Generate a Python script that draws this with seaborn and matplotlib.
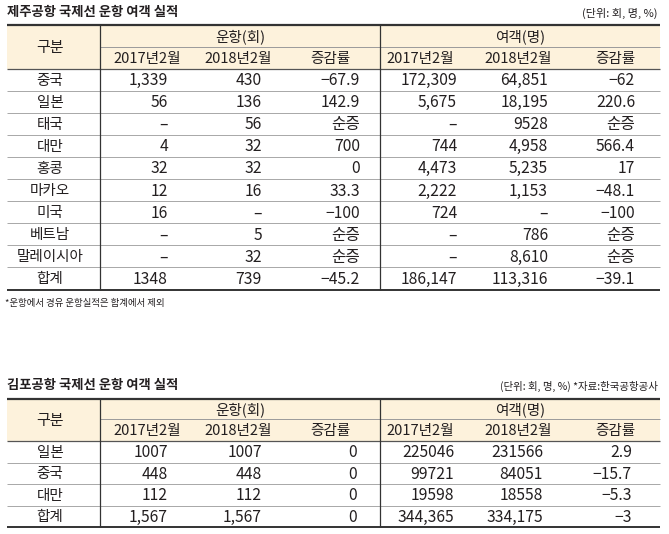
import matplotlib.pyplot as plt
import seaborn as sns
from matplotlib.patches import Rectangle

# 제주공항 data
jeju_rows = ['중국', '일본', '태국', '대만', '홍콩', '마카오', '미국', '베트남', '말레이시아', '합계']
jeju_flights_2017 = ['1,339', '56', '–', '4', '32', '12', '16', '–', '–', '1348']
jeju_flights_2018 = ['430', '136', '56', '32', '32', '16', '–', '5', '32', '739']
jeju_flights_rate = ['−67.9', '142.9', '순증', '700', '0', '33.3', '−100', '순증', '순증', '−45.2']
jeju_pax_2017 = ['172,309', '5,675', '–', '744', '4,473', '2,222', '724', '–', '–', '186,147']
jeju_pax_2018 = ['64,851', '18,195', '9528', '4,958', '5,235', '1,153', '–', '786', '8,610', '113,316']
jeju_pax_rate = ['−62', '220.6', '순증', '566.4', '17', '−48.1', '−100', '순증', '순증', '−39.1']

# 김포공항 data
gimpo_rows = ['일본', '중국', '대만', '합계']
gimpo_flights_2017 = ['1007', '448', '112', '1,567']
gimpo_flights_2018 = ['1007', '448', '112', '1,567']
gimpo_flights_rate = ['0', '0', '0', '0']
gimpo_pax_2017 = ['225046', '99721', '19598', '344,365']
gimpo_pax_2018 = ['231566', '84051', '18558', '334,175']
gimpo_pax_rate = ['2.9', '−15.7', '−5.3', '−3']

sub_headers = ['2017년2월', '2018년2월', '증감률', '2017년2월', '2018년2월', '증감률']
group_headers = ['운항(회)', '여객(명)']

sns.set_style('white')
plt.rcParams['font.family'] = ['Noto Sans CJK KR', 'DejaVu Sans']

TXT = '#231f20'
HEAD_BG = '#fdf2dc'
LINE = '#9a9a9a'
L, R, V1, V2 = 7, 660, 100, 380
head_x = [147, 238, 330, 420, 518, 615]
group_x = [240, 520]


def draw_table(ax, top, mid, hbot, row_h, rows, cols, right_x):
    bottom = hbot + row_h * len(rows)
    ax.add_patch(Rectangle((L, top), R - L, hbot - top, color=HEAD_BG, lw=0, zorder=0))
    ax.hlines(top, L, R, color='#333333', lw=1.6)
    ax.hlines(mid, V1, R, color=LINE, lw=0.7)
    ax.hlines(hbot, L, R, color='#555555', lw=0.9)
    ax.hlines(bottom, L, R, color='#333333', lw=1.4)
    for i in range(1, len(rows)):
        ax.hlines(hbot + row_h * i, L, R, color=LINE, lw=0.6)
    ax.vlines([V1, V2], top, bottom, color='#333333', lw=0.9)

    ax.text(50, (top + hbot) / 2 + 1, '구분', ha='center', va='center', fontsize=10.8, color=TXT)
    for gx, g in zip(group_x, group_headers):
        ax.text(gx, (top + mid) / 2 + 1, g, ha='center', va='center', fontsize=10.5, color=TXT)
    for hx, h in zip(head_x, sub_headers):
        ax.text(hx, (mid + hbot) / 2 + 1, h, ha='center', va='center', fontsize=10.5, color=TXT)

    for i, name in enumerate(rows):
        y = hbot + row_h * (i + 0.5) + 1
        ax.text(50, y, name, ha='center', va='center', fontsize=10.5, color=TXT)
        for rx, col in zip(right_x, cols):
            ax.text(rx, y, col[i], ha='right', va='center', fontsize=11.3, color=TXT)


fig = plt.figure(figsize=(6.69, 5.34), dpi=100)
ax = fig.add_axes([0, 0, 1, 1])
ax.set_xlim(0, 669)
ax.set_ylim(534, 0)
ax.axis('off')

# top table
ax.text(7, 12, '제주공항 국제선 운항 여객 실적', ha='left', va='center',
        fontsize=9.6, fontweight='bold', color=TXT)
ax.text(658, 13, '(단위: 회, 명, %)', ha='right', va='center', fontsize=8, color=TXT)
draw_table(ax, 25, 47, 68.5, 22.1, jeju_rows,
           [jeju_flights_2017, jeju_flights_2018, jeju_flights_rate,
            jeju_pax_2017, jeju_pax_2018, jeju_pax_rate],
           [168, 262, 360, 457, 548, 635])
ax.text(5, 303, '*운항에서 경유 운항실적은 합계에서 제외', ha='left', va='center',
        fontsize=6.8, color=TXT)

# bottom table
ax.text(7, 385, '김포공항 국제선 운항 여객 실적', ha='left', va='center',
        fontsize=9.6, fontweight='bold', color=TXT)
ax.text(658, 386, '(단위: 회, 명, %) *자료:한국공항공사', ha='right', va='center',
        fontsize=7.5, color=TXT)
draw_table(ax, 399, 419, 441, 21.5, gimpo_rows,
           [gimpo_flights_2017, gimpo_flights_2018, gimpo_flights_rate,
            gimpo_pax_2017, gimpo_pax_2018, gimpo_pax_rate],
           [168, 262, 357, 454, 543, 632])

fig.savefig('out.png', dpi=100)
